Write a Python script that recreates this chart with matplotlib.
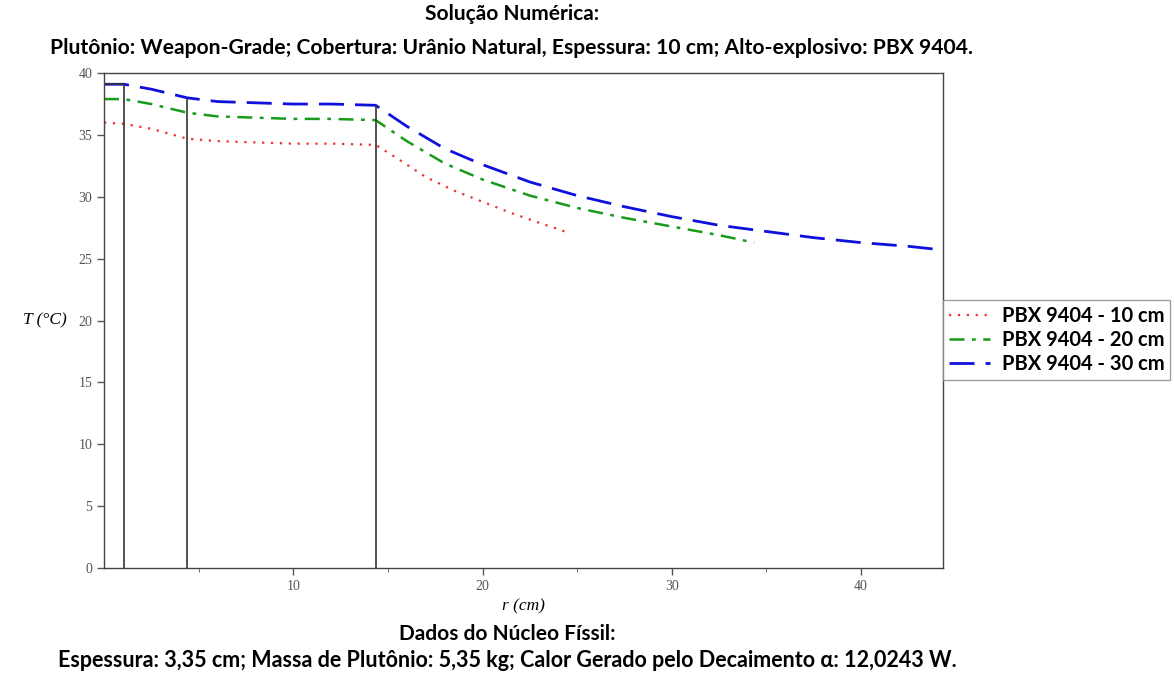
import matplotlib.pyplot as plt
from matplotlib.ticker import MultipleLocator, FixedLocator

# --------------- DATA ------------------
r_10 = [0.0, 1.05, 2.5, 4.4, 6.0, 8.0, 10.0, 12.0, 14.35, 15.5, 17.0, 18.5, 20.0, 21.5, 23.0, 24.35]
T_10 = [36.0, 35.9, 35.5, 34.7, 34.5, 34.4, 34.3, 34.3, 34.2, 33.1, 31.6, 30.5, 29.6, 28.7, 27.9, 27.2]

r_20 = [0.0, 1.05, 2.5, 4.4, 6.0, 8.0, 10.0, 12.0, 14.35, 16.0, 18.0, 20.0, 22.5, 25.0, 27.5, 30.0, 32.5, 34.35]
T_20 = [37.9, 37.9, 37.5, 36.8, 36.5, 36.4, 36.3, 36.3, 36.2, 34.5, 32.7, 31.4, 30.1, 29.1, 28.3, 27.6, 26.9, 26.3]

r_30 = [0.0, 1.05, 2.5, 4.4, 6.0, 8.0, 10.0, 12.0, 14.35, 16.0, 18.0, 20.0, 22.5, 25.0, 27.5, 30.0,
        32.5, 35.0, 37.5, 40.0, 42.5, 44.35]
T_30 = [39.1, 39.1, 38.7, 38.0, 37.7, 37.6, 37.5, 37.5, 37.4, 35.7, 33.9, 32.6, 31.2, 30.1, 29.2, 28.4,
        27.7, 27.2, 26.7, 26.3, 26.0, 25.7]

# interfaces: nucleus inner/outer radius and end of coverage
r_interfaces = [1.05, 4.4, 14.35]
T_interfaces = [39.1, 38.0, 37.4]

x_ticks = [10, 20, 30, 40]
labels = ['PBX 9404 - 10 cm', 'PBX 9404 - 20 cm', 'PBX 9404 - 30 cm']

TITLE1 = 'Solução Numérica:'
TITLE2 = 'Plutônio: Weapon-Grade; Cobertura: Urânio Natural, Espessura: 10 cm; Alto-explosivo: PBX 9404.'
FOOTER1 = 'Dados do Núcleo Físsil:'
FOOTER2 = 'Espessura: 3,35 cm; Massa de Plutônio: 5,35 kg; Calor Gerado pelo Decaimento α: 12,0243 W.'

# --------------- PLOT ------------------
SANS = ['Lato', 'DejaVu Sans']
SERIF = ['Liberation Serif', 'DejaVu Serif']

fig = plt.figure(figsize=(11.74, 6.77), dpi=100)
ax = fig.add_axes([0.0886, 0.161, 0.715, 0.731])

ax.plot(r_10, T_10, color='#f03030', linestyle=(0, (1, 3)), lw=1.6, label=labels[0])
ax.plot(r_20, T_20, color='#1a9a1a', linestyle=(0, (6, 3, 1.5, 3)), lw=1.8, label=labels[1])
ax.plot(r_30, T_30, color='#1010dd', linestyle=(0, (9, 4)), lw=2.0, label=labels[2])

ax.vlines(r_interfaces, 0, T_interfaces, colors='#333333', lw=1.2)
ax.hlines(T_interfaces[0], 0, r_interfaces[0], colors='#333333', lw=1.2)

ax.set_xlim(0, 44.35)
ax.set_ylim(0, 40)
ax.xaxis.set_major_locator(FixedLocator(x_ticks))
ax.xaxis.set_minor_locator(FixedLocator([5, 15, 25, 35]))
ax.yaxis.set_major_locator(MultipleLocator(5))
ax.tick_params(axis='both', which='major', length=5, width=1, color='#555555',
               labelsize=10, labelcolor='#555555')
ax.tick_params(axis='x', which='minor', length=3, color='#555555')
for lbl in ax.get_xticklabels() + ax.get_yticklabels():
    lbl.set_family(SERIF)
for sp in ax.spines.values():
    sp.set_color('#444444')
    sp.set_linewidth(1.0)

ax.set_xlabel('r (cm)', fontsize=12.5, family=SERIF, style='italic', labelpad=4)
ax.set_ylabel('T (°C)', fontsize=12.5, family=SERIF, style='italic', rotation=0, labelpad=24, va='center')

fig.text(0.436, 0.979, TITLE1, ha='center', va='center', fontsize=15, fontweight='bold', family=SANS)
fig.text(0.436, 0.929, TITLE2, ha='center', va='center', fontsize=15.2, fontweight='bold', family=SANS)
fig.text(0.432, 0.064, FOOTER1, ha='center', va='center', fontsize=15, fontweight='bold', family=SANS)
fig.text(0.432, 0.024, FOOTER2, ha='center', va='center', fontsize=15.5, fontweight='bold', family=SANS)

leg = ax.legend(loc='center left', bbox_to_anchor=(1.0, 0.46),
                prop={'family': SANS, 'weight': 'bold', 'size': 14.5},
                frameon=True, fancybox=False, edgecolor='#888888', handlelength=2.0,
                borderaxespad=0.0, labelspacing=0.2, borderpad=0.3, handletextpad=0.6)

fig.savefig('out.png', dpi=100)
